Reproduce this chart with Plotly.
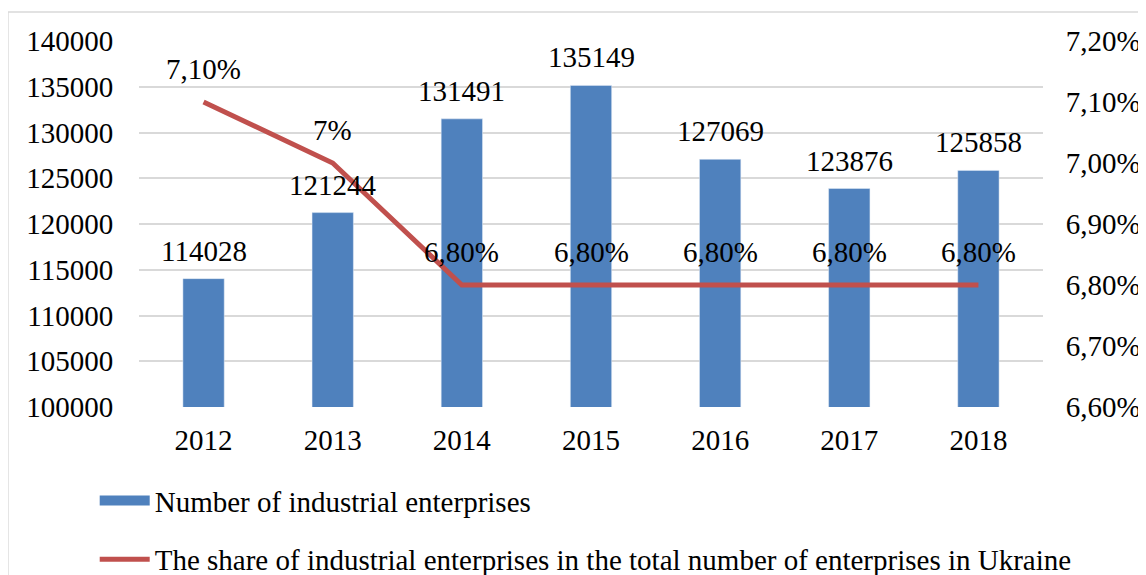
import plotly.graph_objects as go

years = [2012, 2013, 2014, 2015, 2016, 2017, 2018]
enterprises = [114028, 121244, 131491, 135149, 127069, 123876, 125858]
share = [0.071, 0.070, 0.068, 0.068, 0.068, 0.068, 0.068]
share_labels = ["7,10%", "7%", "6,80%", "6,80%", "6,80%", "6,80%", "6,80%"]
bar_name = "Number of industrial enterprises"
line_name = "The share of industrial enterprises in the total number of enterprises in Ukraine"

FONT = "Liberation Serif"
FS = 29
tf = dict(family=FONT, size=FS, color="black")
clear = "rgba(0,0,0,0)"
BLUE = "#4F81BD"
RED = "#C0504D"

fig = go.Figure()
fig.add_trace(go.Bar(
    x=years, y=enterprises, name=bar_name, marker_color=BLUE,
    width=0.32, showlegend=False,
))
# legend entry for the bars (wide block like the original legend key)
fig.add_trace(go.Scatter(
    x=[None], y=[None], name=bar_name, mode="lines",
    line=dict(color=BLUE, width=13), legendgroup="a",
))
fig.add_trace(go.Scatter(
    x=years, y=share, name=line_name, mode="lines", yaxis="y2",
    line=dict(color=RED, width=5), legendgroup="b",
))

annotations = []
for x, v in zip(years, enterprises):
    annotations.append(dict(x=x, y=v, xref="x", yref="y", text=str(v), showarrow=False,
                            yshift=28, font=tf))
for x, v, t in zip(years, share, share_labels):
    annotations.append(dict(x=x, y=v, xref="x", yref="y2", text=t, showarrow=False,
                            yshift=33, font=tf))

fig.update_layout(
    width=1146, height=575,
    margin=dict(l=131, r=111, t=33, b=176, autoexpand=False),
    plot_bgcolor="white", paper_bgcolor="white",
    font=tf,
    separators=",.",
    xaxis=dict(type="linear", range=[2011.5, 2018.5], tickmode="array", tickvals=years,
               tickformat="d", showgrid=False, showline=False, zeroline=False,
               ticks="outside", ticklen=7, tickcolor=clear, tickfont=tf),
    yaxis=dict(range=[100000, 140000], dtick=5000, tickformat="d",
               showgrid=True, gridcolor="#D9D9D9", gridwidth=1.5, zeroline=False,
               ticks="outside", ticklen=19, tickcolor=clear, tickfont=tf),
    yaxis2=dict(range=[0.066, 0.072], dtick=0.001, tickformat=".2%", overlaying="y",
                side="right", showgrid=False, zeroline=False,
                ticks="outside", ticklen=16, tickcolor=clear, tickfont=tf),
    legend=dict(orientation="v", x=-0.049, y=-0.186, xanchor="left", yanchor="top",
                tracegroupgap=18, itemwidth=50, font=tf, bgcolor=clear),
    annotations=annotations,
    shapes=[dict(type="rect", xref="paper", yref="paper", x0=-0.145, x1=1.2,
                 y0=-0.6, y1=1.079, line=dict(color="#D9D9D9", width=1.5),
                 fillcolor=clear, layer="below")],
)

fig.write_html("out.html")
